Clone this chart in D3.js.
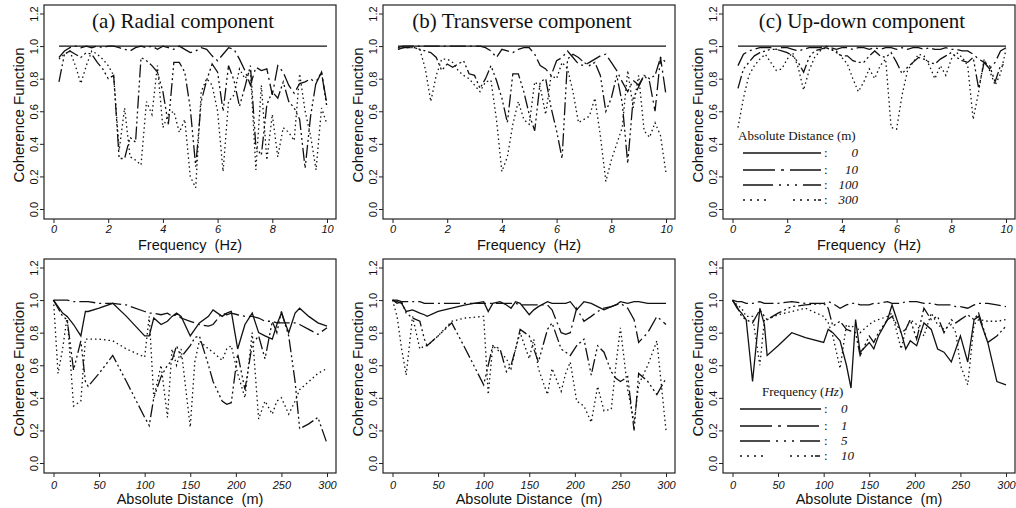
<!DOCTYPE html>
<html>
<head>
<meta charset="utf-8">
<script src="https://cdn.jsdelivr.net/npm/d3@7"></script>
<style>
  body { margin: 0; background: #fff; }
  svg { display: block; }
</style>
</head>
<body>
<svg id="chart" width="1016" height="508"></svg>
<script>
// Frequency grid (Hz) used by the top row
var freqHz = [0.2,0.4,0.6,0.8,1.0,1.2,1.4,1.6,1.8,2.0,2.2,2.4,2.6,2.8,3.0,3.2,3.4,3.6,3.8,4.0,
  4.2,4.4,4.6,4.8,5.0,5.2,5.4,5.6,5.8,6.0,6.2,6.4,6.6,6.8,7.0,7.2,7.4,7.6,7.8,8.0,
  8.2,8.4,8.6,8.8,9.0,9.2,9.4,9.6,9.8,10.0];

// Station separations (m) used by the bottom row
var distM = [0,5,10,15,22,30,35,38,50,65,80,100,105,110,118,125,130,135,140,150,
  155,160,170,175,185,190,195,202,210,218,225,232,240,245,250,258,265,270,280,290,300];

// coherence at 0 m separation (same for every component)
var coh0m = [1,1,1,1,1,1,1,1,1,1,1,1,1,1,1,1,1,1,1,1,1,1,1,1,1,1,1,1,1,1,1,1,1,1,1,1,1,1,1,1,1,1,1,1,1,1,1,1,1,1];

// (a) radial
var radial10 = [0.93,0.97,0.99,1.0,0.99,1.0,0.99,1.0,0.99,1.0,1.0,0.99,0.98,0.97,0.99,1.0,0.99,1.0,0.98,1.0,
  0.99,0.98,1.0,0.98,0.96,0.97,0.99,0.98,0.94,0.91,0.95,0.99,0.98,0.92,0.85,0.76,0.87,0.85,0.86,0.7,
  0.88,0.84,0.76,0.71,0.77,0.78,0.8,0.77,0.84,0.64];
var radial100 = [0.78,0.95,0.97,0.95,0.93,0.96,0.95,0.9,0.86,0.8,0.82,0.31,0.31,0.44,0.41,0.93,0.91,0.88,0.84,0.72,
  0.52,0.9,0.9,0.84,0.62,0.26,0.66,0.79,0.89,0.84,0.6,0.88,0.79,0.63,0.75,0.88,0.38,0.33,0.64,0.72,
  0.68,0.78,0.66,0.62,0.55,0.25,0.57,0.78,0.84,0.62];
var radial300 = [0.92,0.95,0.97,0.88,0.77,0.88,0.97,0.95,0.92,0.88,0.82,0.36,0.62,0.32,0.3,0.27,0.66,0.58,0.88,0.5,
  0.58,0.6,0.47,0.55,0.2,0.13,0.72,0.8,0.76,0.6,0.23,0.66,0.7,0.86,0.8,0.85,0.24,0.76,0.3,0.58,
  0.32,0.5,0.47,0.42,0.83,0.6,0.45,0.24,0.62,0.52];

// (b) transverse
var transverse10 = [0.99,1.0,1.0,1.0,1.0,1.0,1.0,1.0,1.0,1.0,1.0,1.0,1.0,1.0,1.0,1.0,0.99,0.97,0.93,0.98,
  0.97,0.96,0.98,0.99,0.99,0.95,0.88,0.86,0.82,0.91,0.93,0.97,0.93,0.89,0.88,0.9,0.92,0.94,0.95,0.9,
  0.85,0.78,0.72,0.79,0.76,0.82,0.78,0.6,0.93,0.7];
var transverse100 = [0.98,0.99,0.99,0.99,0.98,0.97,0.96,0.93,0.85,0.89,0.87,0.89,0.91,0.83,0.82,0.74,0.8,0.88,0.79,0.68,
  0.53,0.83,0.83,0.72,0.58,0.48,0.78,0.8,0.62,0.48,0.31,0.92,0.95,0.93,0.9,0.88,0.9,0.82,0.6,0.68,
  0.82,0.65,0.28,0.68,0.75,0.82,0.8,0.82,0.93,0.9];
var transverse300 = [0.98,0.99,0.99,0.99,0.98,0.86,0.66,0.82,0.92,0.92,0.9,0.85,0.82,0.8,0.76,0.72,0.78,0.79,0.55,0.23,
  0.32,0.52,0.66,0.55,0.52,0.78,0.75,0.58,0.82,0.8,0.9,0.86,0.72,0.53,0.55,0.57,0.68,0.45,0.17,0.3,
  0.4,0.5,0.85,0.62,0.82,0.48,0.44,0.53,0.45,0.22];

// (c) up-down
var updown10 = [0.88,0.95,0.97,0.98,0.99,0.99,0.99,0.98,0.99,0.99,0.98,0.97,0.98,0.99,0.99,0.99,1.0,0.99,0.98,0.99,
  0.99,0.98,0.99,0.99,0.98,0.99,0.98,0.99,0.99,0.98,0.99,0.98,0.99,0.99,0.98,0.99,0.98,0.98,0.99,0.98,
  0.98,0.97,0.97,0.95,0.92,0.9,0.86,0.9,0.97,0.99];
var updown100 = [0.74,0.86,0.9,0.94,0.96,0.97,0.98,0.98,0.97,0.96,0.94,0.9,0.84,0.93,0.97,0.98,0.99,0.98,0.96,0.94,
  0.94,0.91,0.9,0.9,0.94,0.97,0.94,0.93,0.96,0.9,0.83,0.87,0.9,0.93,0.92,0.9,0.89,0.92,0.94,0.96,
  0.93,0.91,0.9,0.93,0.74,0.9,0.88,0.78,0.88,0.89];
var updown300 = [0.5,0.68,0.82,0.88,0.92,0.95,0.9,0.85,0.86,0.92,0.96,0.87,0.73,0.85,0.93,0.97,0.99,0.98,0.97,0.93,
  0.89,0.8,0.72,0.78,0.86,0.8,0.88,0.92,0.5,0.49,0.7,0.85,0.9,0.95,0.94,0.88,0.8,0.88,0.82,0.92,
  0.96,0.93,0.88,0.55,0.72,0.92,0.85,0.76,0.83,0.98];

// bottom row: coherence against distance at 0, 1, 5 and 10 Hz
var radialF0 = [1.0,0.96,0.92,0.9,0.85,0.78,0.93,0.93,0.95,0.98,0.9,0.78,0.78,0.89,0.85,0.87,0.9,0.92,0.9,0.78,
  0.82,0.86,0.9,0.94,0.9,0.92,0.93,0.7,0.85,0.92,0.8,0.78,0.76,0.85,0.92,0.8,0.92,0.95,0.9,0.86,0.84];
var radialF1 = [1.0,1.0,1.0,1.0,0.99,0.99,0.99,0.99,0.98,0.98,0.97,0.93,0.92,0.92,0.91,0.92,0.9,0.91,0.89,0.87,
  0.86,0.85,0.84,0.85,0.92,0.91,0.92,0.91,0.9,0.9,0.89,0.87,0.87,0.86,0.86,0.86,0.86,0.85,0.82,0.79,0.83];
var radialF5 = [1.0,0.95,0.9,0.88,0.57,0.75,0.5,0.47,0.55,0.66,0.5,0.28,0.23,0.4,0.53,0.6,0.63,0.72,0.65,0.72,
  0.77,0.78,0.6,0.5,0.38,0.36,0.37,0.67,0.45,0.73,0.78,0.64,0.87,0.8,0.93,0.78,0.5,0.21,0.24,0.28,0.12];
var radialF10 = [1.0,0.55,0.7,0.9,0.35,0.38,0.76,0.76,0.76,0.75,0.7,0.65,0.9,0.4,0.6,0.28,0.7,0.6,0.7,0.22,
  0.62,0.75,0.7,0.68,0.63,0.7,0.72,0.55,0.4,0.8,0.27,0.38,0.3,0.38,0.4,0.3,0.38,0.45,0.5,0.55,0.58];

var transverseF0 = [1.0,0.99,0.98,0.93,0.94,0.92,0.91,0.9,0.93,0.95,0.97,0.99,0.93,0.98,0.99,0.97,0.95,0.99,0.98,0.91,
  0.94,0.96,0.99,0.98,0.98,0.98,0.99,0.94,0.99,0.98,0.96,0.94,0.96,0.97,0.99,0.98,0.99,0.99,0.98,0.98,0.98];
var transverseF1 = [1.0,1.0,0.99,0.99,0.99,0.99,0.98,0.98,0.98,0.98,0.98,0.98,0.98,0.98,0.98,0.98,0.98,0.98,0.97,0.97,
  0.97,0.97,0.97,0.94,0.8,0.79,0.8,0.95,0.87,0.9,0.93,0.95,0.96,0.97,0.98,0.95,0.88,0.74,0.8,0.9,0.85];
var transverseF5 = [1.0,0.98,0.99,0.92,0.89,0.87,0.76,0.72,0.78,0.86,0.7,0.48,0.6,0.72,0.7,0.56,0.6,0.7,0.82,0.78,
  0.7,0.62,0.82,0.86,0.7,0.68,0.66,0.72,0.76,0.54,0.72,0.68,0.56,0.52,0.5,0.53,0.2,0.55,0.5,0.42,0.52];
var transverseF10 = [1.0,0.9,0.7,0.54,0.9,0.7,0.72,0.72,0.78,0.87,0.89,0.9,0.42,0.72,0.68,0.64,0.58,0.7,0.8,0.64,
  0.76,0.58,0.42,0.58,0.44,0.55,0.62,0.38,0.35,0.25,0.47,0.32,0.33,0.6,0.83,0.45,0.25,0.48,0.6,0.75,0.2];

var updownF0 = [1.0,0.95,0.92,0.88,0.5,0.95,0.85,0.66,0.72,0.8,0.77,0.74,0.82,0.8,0.75,0.6,0.46,0.88,0.68,0.74,
  0.7,0.78,0.88,0.97,0.8,0.7,0.75,0.72,0.86,0.82,0.7,0.68,0.62,0.7,0.78,0.62,0.88,0.9,0.74,0.5,0.48];
var updownF1 = [1.0,0.99,0.99,0.98,0.98,0.99,0.98,0.98,0.98,0.99,0.98,0.98,0.99,0.98,0.95,0.97,0.98,0.98,0.97,0.97,
  0.98,0.98,0.99,0.98,0.98,0.99,0.99,0.99,0.98,0.98,0.97,0.97,0.97,0.96,0.96,0.95,0.97,0.98,0.98,0.97,0.96];
var updownF5 = [1.0,0.96,0.9,0.88,0.86,0.94,0.9,0.88,0.92,0.96,0.97,0.98,0.95,0.84,0.87,0.82,0.81,0.8,0.66,0.78,
  0.74,0.8,0.88,0.9,0.8,0.82,0.88,0.76,0.95,0.88,0.9,0.8,0.88,0.86,0.88,0.91,0.88,0.92,0.74,0.78,0.84];
var updownF10 = [1.0,0.97,0.95,0.9,0.9,0.6,0.88,0.88,0.91,0.93,0.95,0.9,0.86,0.78,0.58,0.85,0.83,0.85,0.8,0.85,
  0.87,0.88,0.9,0.92,0.7,0.82,0.88,0.85,0.78,0.92,0.85,0.82,0.85,0.8,0.6,0.48,0.85,0.88,0.87,0.87,0.88];

var yTicks = [0, 0.2, 0.4, 0.6, 0.8, 1.0, 1.2];
var freqTicks = [0, 2, 4, 6, 8, 10];
var distTicks = [0, 50, 100, 150, 200, 250, 300];

var distLabels = ['0', '10', '100', '300'];
var freqLabels = ['0', '1', '5', '10'];

// line styles: solid, dash-dot, dash-dots, dotted
var dashes = [null, '16,4,2,4', '13,3,2,3,2,3,2,3', '1.5,3'];
var legendDashes = [null, '32,6,3,6,32', '30,6,2,6,2,6,2,6,20', '2,5,2,5,2,5,2,27,2,5,2,5,2,5,2'];

var sansFont = '"Liberation Sans", Arial, sans-serif';
var serifFont = '"Liberation Serif", "Times New Roman", serif';

var svg = d3.select('#chart');

var panelW = 292, panelH = 214;

var panels = [
  {left: 44, top: 5, title: '(a) Radial component', xs: freqHz, xDomain: [0, 10], xTicks: freqTicks,
   xLabel: 'Frequency  (Hz)', series: [coh0m, radial10, radial100, radial300]},
  {left: 383, top: 5, title: '(b) Transverse component', xs: freqHz, xDomain: [0, 10], xTicks: freqTicks,
   xLabel: 'Frequency  (Hz)', series: [coh0m, transverse10, transverse100, transverse300]},
  {left: 723, top: 5, title: '(c) Up-down component', xs: freqHz, xDomain: [0, 10], xTicks: freqTicks,
   xLabel: 'Frequency  (Hz)', series: [coh0m, updown10, updown100, updown300], legend: 'dist'},
  {left: 44, top: 259, xs: distM, xDomain: [0, 300], xTicks: distTicks,
   xLabel: 'Absolute Distance  (m)', series: [radialF0, radialF1, radialF5, radialF10]},
  {left: 383, top: 259, xs: distM, xDomain: [0, 300], xTicks: distTicks,
   xLabel: 'Absolute Distance  (m)', series: [transverseF0, transverseF1, transverseF5, transverseF10]},
  {left: 723, top: 259, xs: distM, xDomain: [0, 300], xTicks: distTicks,
   xLabel: 'Absolute Distance  (m)', series: [updownF0, updownF1, updownF5, updownF10], legend: 'freq'}
];

panels.forEach(function(p) { drawPanel(p); });

function drawPanel(p) {
  var g = svg.append('g').attr('transform', 'translate(' + p.left + ',' + p.top + ')');
  var lowerRow = p.top > 100;

  var x = d3.scaleLinear().domain(p.xDomain).range([9.5, 283]);
  var y = d3.scaleLinear().domain([0, 1.2]).range([204, 8.5]);

  // curves
  var line = d3.line()
    .x(function(d, i) { return x(p.xs[i]); })
    .y(function(d) { return y(d); });

  p.series.forEach(function(vals, k) {
    g.append('path')
      .attr('d', line(vals))
      .attr('fill', 'none')
      .attr('stroke', '#111')
      .attr('stroke-width', 1.3)
      .attr('stroke-dasharray', dashes[k]);
  });

  // frame
  g.append('rect')
    .attr('x', 0).attr('y', 0)
    .attr('width', panelW).attr('height', panelH)
    .attr('fill', 'none')
    .attr('stroke', '#222')
    .attr('stroke-width', 1.2);

  // y axis, labels turned like S-plus
  var ya = g.append('g')
    .call(d3.axisLeft(y).tickValues(yTicks).tickFormat(d3.format('.1f')).tickSize(4));
  ya.select('.domain').remove();
  ya.selectAll('line').attr('stroke', '#222');
  ya.selectAll('text')
    .attr('x', null).attr('dy', null)
    .attr('transform', 'translate(-6.5,0) rotate(-90)')
    .attr('text-anchor', 'middle')
    .style('font-family', sansFont)
    .style('font-size', '11px')
    .attr('fill', '#111');

  // x axis
  var xa = g.append('g')
    .attr('transform', 'translate(0,' + panelH + ')')
    .call(d3.axisBottom(x).tickValues(p.xTicks).tickSize(4).tickPadding(lowerRow ? 4 : 2));
  xa.select('.domain').remove();
  xa.selectAll('line').attr('stroke', '#222');
  xa.selectAll('text')
    .style('font-family', sansFont)
    .style('font-size', '11px')
    .style('font-style', 'italic')
    .attr('fill', '#111');

  // axis titles
  g.append('text')
    .attr('transform', 'translate(-20.5,' + (panelH / 2 + 3) + ') rotate(-90)')
    .attr('text-anchor', 'middle')
    .style('font-family', sansFont)
    .style('font-size', '15px')
    .attr('fill', '#111')
    .text('Coherence Function');

  g.append('text')
    .attr('x', panelW / 2)
    .attr('y', panelH + (lowerRow ? 31 : 30.5))
    .attr('text-anchor', 'middle')
    .style('font-family', sansFont)
    .style('font-size', '14.5px')
    .style('white-space', 'pre')
    .attr('fill', '#111')
    .text(p.xLabel);

  // panel title
  if (p.title) {
    g.append('text')
      .attr('x', panelW / 2 - 7)
      .attr('y', 23)
      .attr('text-anchor', 'middle')
      .style('font-family', serifFont)
      .style('font-size', '21px')
      .attr('fill', '#111')
      .text(p.title);
  }

  if (p.legend === 'dist') drawLegend(g, 'dist', 135, [148, 165, 180, 195]);
  if (p.legend === 'freq') drawLegend(g, 'freq', 137, [150, 167, 182, 197]);
}

function drawLegend(g, kind, headY, rowsY) {
  var head = g.append('text')
    .attr('y', headY)
    .style('font-family', serifFont)
    .style('font-size', '13px')
    .attr('fill', '#111');
  if (kind === 'dist') {
    head.attr('x', 15).text('Absolute Distance (m)');
  } else {
    head.attr('x', 39).text('Frequency (');
    head.append('tspan').style('font-style', 'italic').text('Hz');
    head.append('tspan').text(')');
  }

  var labels = kind === 'dist' ? distLabels : freqLabels;
  labels.forEach(function(lab, k) {
    var ly = rowsY[k];
    g.append('line')
      .attr('x1', kind === 'dist' ? 20 : 17).attr('x2', 98)
      .attr('y1', ly).attr('y2', ly)
      .attr('stroke', '#111')
      .attr('stroke-width', 1.6)
      .attr('stroke-dasharray', legendDashes[k]);
    g.append('text')
      .attr('x', 101).attr('y', ly + 4)
      .style('font-family', serifFont)
      .style('font-size', '13px')
      .attr('fill', '#111')
      .text(':');
    g.append('text')
      .attr('x', kind === 'dist' ? 135 : 118)
      .attr('y', ly + 4)
      .attr('text-anchor', kind === 'dist' ? 'end' : 'start')
      .style('font-family', serifFont)
      .style('font-size', '13px')
      .style('font-style', 'italic')
      .attr('fill', '#111')
      .text(lab);
  });
}
</script>
</body>
</html>
